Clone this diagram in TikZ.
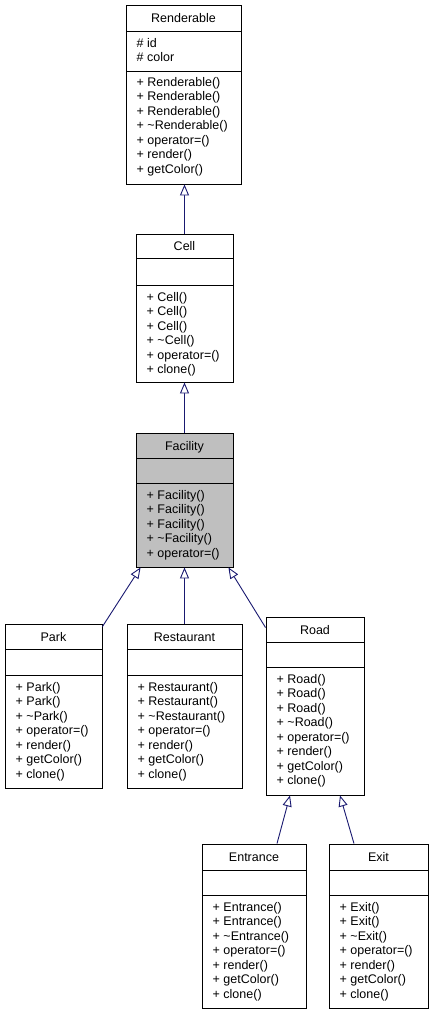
\documentclass[tikz,border=0pt]{standalone}
\usepackage{fontspec}
\setmainfont{Liberation Sans}
\usetikzlibrary{arrows.meta,fit}
\definecolor{edgeblue}{HTML}{191970}
\definecolor{focusgray}{HTML}{BFBFBF}
\tikzset{
  classbox/.style={draw=black, line width=0.9pt, inner sep=0pt},
  seprule/.style={draw=black, line width=0.9pt},
  member/.style={anchor=base west, inner sep=0pt, font=\fontsize{12.5}{14.5}\selectfont},
  titletext/.style={anchor=base, inner sep=0pt, font=\fontsize{12.5}{14.5}\selectfont},
  inherit/.style={draw=edgeblue, line width=0.9pt, -{Triangle[open, length=11pt, width=9pt, fill=white]}},
}
% #1 name #2 left #3 top #4 right #5 sep1 #6 sep2 #7 bottom #8 fill #9 title
\newcommand\umlclassbox[9]{%
  \node[classbox, fill=#8, fit={(#2,#3) (#4,#7)}] (#1) {};
  \draw[seprule] (#2,#5) -- (#4,#5);
  \draw[seprule] (#2,#6) -- (#4,#6);
  \node[titletext] (#1-title) at ({(#2+#4)/2}, {(#3+#5)/2+4.5}) {#9};
}
% #1 name prefix #2 x #3 first baseline #4 list
\newcommand\umlmembers[4]{%
  \foreach \txt [count=\i] in {#4} {
    \node[member] (#1-\i) at (#2, {#3+(\i-1)*14.5}) {\txt};
  }
}
\begin{document}
\begin{tikzpicture}[x=1pt,y=-1pt]
\useasboundingbox (0,0) rectangle (432,1015);

% Renderable
\umlclassbox{renderable}{126}{5}{241}{31}{71}{184}{white}{Renderable}
\umlmembers{renderable-attr}{136.5}{47}{\# id, \# color}
\umlmembers{renderable-op}{136.5}{86}{+ Renderable(), + Renderable(), + Renderable(), + \textasciitilde Renderable(), + operator=(), + render(), + getColor()}

% Cell
\umlclassbox{cell}{136}{234}{233}{258}{285}{382}{white}{Cell}
\umlmembers{cell-op}{146.5}{301}{+ Cell(), + Cell(), + Cell(), + \textasciitilde Cell(), + operator=(), + clone()}

% Facility
\umlclassbox{facility}{136}{433}{233}{458}{483}{567}{focusgray}{Facility}
\umlmembers{facility-op}{146.5}{499}{+ Facility(), + Facility(), + Facility(), + \textasciitilde Facility(), + operator=()}

% Park
\umlclassbox{park}{5}{624}{102}{649}{675}{788}{white}{Park}
\umlmembers{park-op}{15.5}{691}{+ Park(), + Park(), + \textasciitilde Park(), + operator=(), + render(), + getColor(), + clone()}

% Restaurant
\umlclassbox{restaurant}{127}{624}{242}{649}{675}{788}{white}{Restaurant}
\umlmembers{restaurant-op}{137.5}{691}{+ Restaurant(), + Restaurant(), + \textasciitilde Restaurant(), + operator=(), + render(), + getColor(), + clone()}

% Road
\umlclassbox{road}{266}{617}{364}{642}{667}{795}{white}{Road}
\umlmembers{road-op}{276.5}{683}{+ Road(), + Road(), + Road(), + \textasciitilde Road(), + operator=(), + render(), + getColor(), + clone()}

% Entrance
\umlclassbox{entrance}{202}{844}{306}{870}{895}{1008}{white}{Entrance}
\umlmembers{entrance-op}{212.5}{911}{+ Entrance(), + Entrance(), + \textasciitilde Entrance(), + operator=(), + render(), + getColor(), + clone()}

% Exit
\umlclassbox{exit}{329}{844}{428}{870}{895}{1008}{white}{Exit}
\umlmembers{exit-op}{339.5}{911}{+ Exit(), + Exit(), + \textasciitilde Exit(), + operator=(), + render(), + getColor(), + clone()}

% Inheritance connectors
\draw[inherit] (cell.north) -- (cell.north |- renderable.south);
\draw[inherit] (facility.north) -- (facility.north |- cell.south);
\draw[inherit] ([yshift=-3pt]park.north east) -- ([xshift=5pt]facility.south west);
\draw[inherit] (restaurant.north) -- (restaurant.north |- facility.south);
\draw[inherit] ([yshift=-11pt]road.north west) -- ([xshift=-5pt]facility.south east);
\draw[inherit] ([xshift=23pt]entrance.north) -- ([xshift=-25pt]road.south);
\draw[inherit] ([xshift=-24.5pt]exit.north) -- ([xshift=25pt]road.south);
\end{tikzpicture}
\end{document}
